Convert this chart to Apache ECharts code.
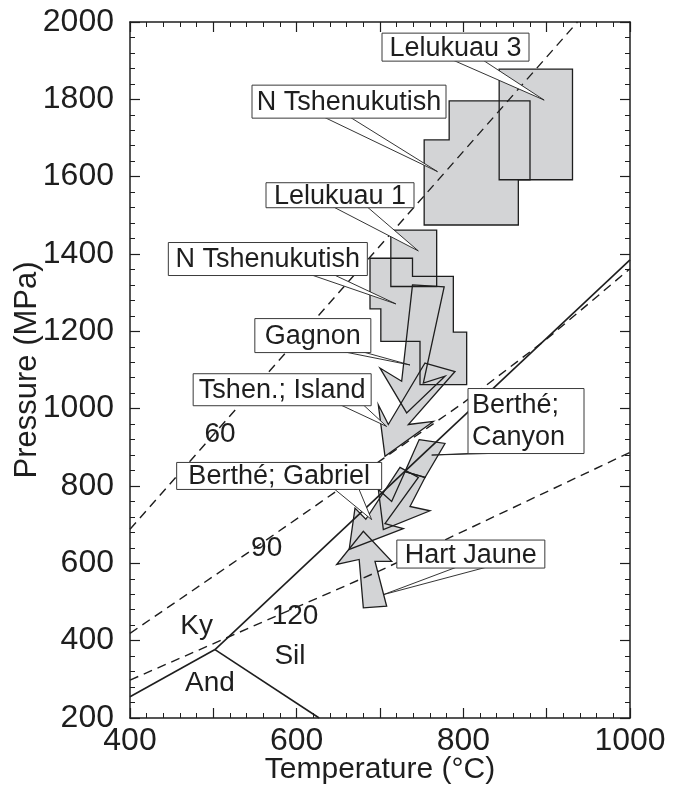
<!DOCTYPE html>
<html>
<head>
<meta charset="utf-8">
<script src="https://cdn.jsdelivr.net/npm/echarts@6/dist/echarts.min.js"></script>
<style>
  html, body { margin: 0; padding: 0; background: #fff; }
  #chart { width: 677px; height: 796px; }
</style>
</head>
<body>
<div id="chart"></div>
<script>
// ---- Axis ranges (Temperature in °C, Pressure in MPa) ----
const tempRange = [400, 1000];
const pressRange = [200, 2000];

// ---- Reference lines: dashed geotherms labelled 60 / 90 / 120 ----
const geotherm60 = [[400, 688], [937, 2000]];
const geotherm90 = [[400, 419], [550, 640], [700, 865], [800, 1015], [900, 1180], [1000, 1362]];
const geotherm120 = [[400, 298], [700, 581], [1000, 887]];

// ---- Aluminosilicate phase boundaries (solid) ----
const boundaryKySil = [[502, 377], [1000, 1385]];
const boundaryAndKy = [[400, 255], [502, 377]];
const boundaryAndSil = [[502, 377], [627, 200]];

// ---- P-T fields (rectangles / stepped boxes) ----
const fieldLelukuau3 = [[843, 1592], [931, 1592], [931, 1878], [843, 1878]];
const fieldNTshenUpper = [[753, 1475], [866, 1475], [866, 1592], [880, 1592], [880, 1796], [783, 1796], [783, 1695], [753, 1695]];
const fieldLelukuau1 = [[713, 1316], [768, 1316], [768, 1462], [713, 1462]];
const fieldNTshenLower = [[688, 1389], [739, 1389], [739, 1342], [788, 1342], [788, 1198], [804, 1198], [804, 1062], [748, 1062], [748, 1174], [701, 1174], [701, 1258], [688, 1258]];

// ---- P-T paths (arrows) ----
const pathGagnon = [[739, 1320], [777, 1315], [752, 1066], [778, 1084], [732, 989], [700, 1105], [726, 1071]];
const pathTshenIsland = [[754, 1118], [790, 1096], [734, 959], [764, 967], [706, 877], [698, 1010], [710, 959]];
const pathCanyonTail = [[747, 920], [778, 910], [754, 822], [730, 837]];
const pathCanyon = [[730, 837], [754, 822], [736, 747], [760, 736], [704, 687], [698, 791], [714, 760]];
const pathGabriel = [[724, 848], [746, 822], [706, 703], [728, 690], [663, 636], [670, 743], [683, 714]];
const pathHartJaune = [[680, 485], [675, 610], [648, 597], [680, 683], [714, 605], [694, 605], [708, 489]];

const allShapes = [
  fieldLelukuau3, fieldNTshenUpper, fieldLelukuau1, fieldNTshenLower,
  pathGagnon, pathTshenIsland, pathCanyonTail, pathCanyon, pathGabriel, pathHartJaune
];

// ---- In-plot text labels ----
const lineLabelTexts = ['60', '90', '120', 'Ky', 'Sil', 'And'];
const lineLabelPoints = [[508, 933], [564, 640], [598, 463], [480, 438], [592, 360], [496, 291]];

// ---- Callouts: text and the point each one refers to ----
const calloutTexts = ['Lelukuau 3', 'N Tshenukutish', 'Lelukuau 1', 'N Tshenukutish', 'Gagnon',
  'Tshen.; Island', 'Berthé;\nCanyon', 'Berthé; Gabriel', 'Hart Jaune'];
const calloutTargets = [[897, 1798], [769, 1613], [746, 1408], [719, 1271], [736, 1113],
  [708, 954], [762, 880], [690, 713], [704, 519]];

// Callout box placement (box centre in axis units, box size and wedge base in px)
const calloutLayout = [
  { at: [790.6, 1935], size: [147, 28], base: [71, 101] },
  { at: [662.8, 1794], size: [194, 33], base: [72, 98] },
  { at: [652, 1552], size: [148, 25], base: [67, 101] },
  { at: [565.4, 1387], size: [199, 33], base: [142, 165] },
  { at: [619.4, 1189], size: [116, 34], base: [88, 107] },
  { at: [582.6, 1049], size: [178, 32], base: [147, 170] },
  { at: [875.2, 968], size: [116, 65], base: [22, 55], align: 'left' },
  { at: [579, 826], size: [205, 27], base: [157, 182] },
  { at: [809, 624], size: [148, 28], base: [60, 90] }
];

const FONT = '"Liberation Sans", Arial, sans-serif';
const INK = '#1e1e1e';
const FIELD_FILL = '#d3d4d6';

const chart = echarts.init(document.getElementById('chart'), null, { renderer: 'canvas' });

function frameAxis(extra) {
  return Object.assign({
    type: 'value',
    axisLine: { show: true, onZero: false, lineStyle: { color: INK, width: 1.5 } },
    axisTick: { show: true, inside: true, length: 10, lineStyle: { color: INK, width: 1.2 } },
    minorTick: { show: true, splitNumber: 5, length: 5, lineStyle: { color: INK, width: 1 } },
    splitLine: { show: false },
    minorSplitLine: { show: false }
  }, extra);
}

function lineSeries(data, dashed, width) {
  return {
    type: 'line',
    data: data,
    showSymbol: false,
    symbol: 'none',
    silent: true,
    clip: true,
    z: 4,
    lineStyle: { color: INK, width: width, type: dashed ? [9, 6] : 'solid' }
  };
}

const option = {
  animation: false,
  backgroundColor: '#fff',
  grid: { left: 130, right: 47, top: 22, bottom: 78, containLabel: false, outerBoundsMode: 'none' },
  xAxis: [
    frameAxis({
      min: tempRange[0], max: tempRange[1], interval: 100, position: 'bottom',
      name: 'Temperature (°C)', nameLocation: 'middle', nameGap: 37, nameMoveOverlap: false,
      nameTextStyle: { fontFamily: FONT, fontSize: 30, color: INK },
      axisLabel: {
        formatter: v => (v % 200 === 0 ? String(v) : ''),
        fontFamily: FONT, fontSize: 32, color: INK, margin: 7
      }
    }),
    frameAxis({
      min: tempRange[0], max: tempRange[1], interval: 100, position: 'top',
      axisLabel: { show: false }
    })
  ],
  yAxis: [
    frameAxis({
      min: pressRange[0], max: pressRange[1], interval: 200, position: 'left',
      name: 'Pressure (MPa)', nameLocation: 'middle', nameGap: 87, nameRotate: 90, nameMoveOverlap: false,
      nameTextStyle: { fontFamily: FONT, fontSize: 31, color: INK },
      axisLabel: { formatter: v => String(v), fontFamily: FONT, fontSize: 32, color: INK, margin: 16 }
    }),
    frameAxis({
      min: pressRange[0], max: pressRange[1], interval: 200, position: 'right',
      axisLabel: { show: false }
    })
  ],
  series: [
    // gray fills of all P-T fields and paths
    {
      type: 'custom',
      z: 2,
      silent: true,
      data: allShapes.map(s => s[0]),
      renderItem: (params, api) => ({
        type: 'polygon',
        shape: { points: allShapes[params.dataIndex].map(p => api.coord(p)) },
        style: { fill: FIELD_FILL, stroke: null }
      })
    },
    // outlines drawn over every fill
    {
      type: 'custom',
      z: 3,
      silent: true,
      data: allShapes.map(s => s[0]),
      renderItem: (params, api) => ({
        type: 'polygon',
        shape: { points: allShapes[params.dataIndex].map(p => api.coord(p)) },
        style: { fill: null, stroke: INK, lineWidth: 1.3 }
      })
    },
    lineSeries(geotherm60, true, 1.4),
    lineSeries(geotherm90, true, 1.4),
    lineSeries(geotherm120, true, 1.4),
    lineSeries(boundaryKySil, false, 1.6),
    lineSeries(boundaryAndKy, false, 1.6),
    lineSeries(boundaryAndSil, false, 1.6),
    // plain text labels for lines and stability fields
    {
      type: 'custom',
      z: 5,
      silent: true,
      data: lineLabelPoints,
      renderItem: (params, api) => {
        const p = api.coord(lineLabelPoints[params.dataIndex]);
        return {
          type: 'text',
          style: {
            text: lineLabelTexts[params.dataIndex],
            x: p[0], y: p[1], align: 'center', verticalAlign: 'middle',
            fontFamily: FONT, fontSize: 28, fill: INK
          }
        };
      }
    },
    // boxed callouts with wedge pointers
    {
      type: 'custom',
      z: 6,
      silent: true,
      data: calloutTargets,
      renderItem: (params, api) => {
        const i = params.dataIndex;
        const lay = calloutLayout[i];
        const c = api.coord(lay.at);
        const w = lay.size[0], h = lay.size[1];
        const left = c[0] - w / 2, top = c[1] - h / 2, bottom = top + h;
        const tip = api.coord(calloutTargets[i]);
        const isLeft = lay.align === 'left';
        return {
          type: 'group',
          children: [
            {
              type: 'polygon',
              shape: { points: [[left + lay.base[0], bottom - 1], [left + lay.base[1], bottom - 1], tip] },
              style: { fill: '#fff', stroke: INK, lineWidth: 0.9 }
            },
            {
              type: 'rect',
              shape: { x: left, y: top, width: w, height: h },
              style: { fill: '#fff', stroke: '#3a3a3a', lineWidth: 1 }
            },
            {
              type: 'text',
              style: {
                text: calloutTexts[i],
                x: isLeft ? left + 4 : c[0], y: c[1] + 1,
                align: isLeft ? 'left' : 'center', verticalAlign: 'middle',
                fontFamily: FONT, fontSize: 27, lineHeight: 32, fill: INK
              }
            }
          ]
        };
      }
    }
  ]
};

chart.setOption(option);
</script>
</body>
</html>
